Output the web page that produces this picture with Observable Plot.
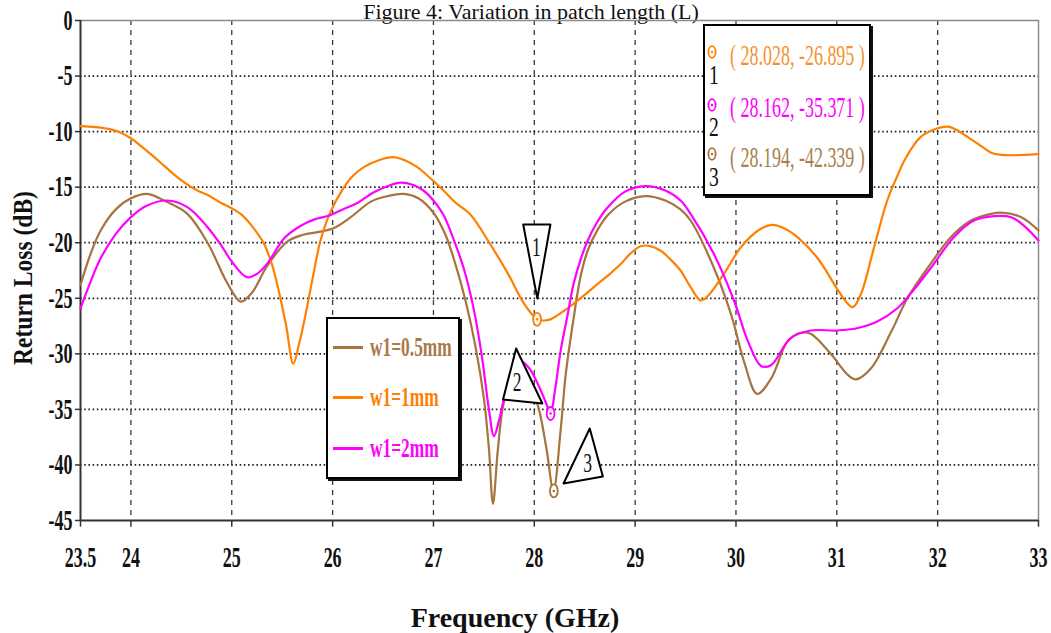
<!DOCTYPE html>
<html>
<head>
<meta charset="utf-8">
<script src="https://cdn.jsdelivr.net/npm/d3@7"></script>
<script src="https://cdn.jsdelivr.net/npm/@observablehq/plot@0.6"></script>
<style>
  body { margin: 0; background: #fff; }
  #wrap { position: relative; width: 1051px; height: 633px; overflow: hidden; background: #fff; font-family: "Liberation Serif", serif; }
  #title { position: absolute; left: 531px; top: 1px; transform: translateX(-50%); font-size: 22px; line-height: 22px; white-space: nowrap; color: #111; }
  #xlabel { position: absolute; left: 515px; top: 604px; transform: translateX(-50%); font-size: 28px; line-height: 28px; font-weight: bold; white-space: nowrap; color: #111; }
  #ylabel { position: absolute; left: 23px; top: 278px; transform: translate(-50%, -50%) rotate(-90deg) scaleX(0.84); font-size: 28px; line-height: 28px; font-weight: bold; white-space: nowrap; color: #111; }
  #chart { position: absolute; left: 0; top: 0; }
  .box { position: absolute; box-sizing: border-box; background: #fff; border: 2px solid #000; box-shadow: 2px 2px 0 #111; }
  .row { position: absolute; white-space: nowrap; transform-origin: left center; }
  .swatch { position: absolute; height: 3px; }
</style>
</head>
<body>
<div id="wrap">
  <div id="title">Figure 4: Variation in patch length (L)</div>
  <div id="chart"></div>
  <div id="xlabel">Frequency (GHz)</div>
  <div id="ylabel">Return Loss (dB)</div>
  <div id="legend" class="box" style="left:326px; top:317px; width:134px; height:162px;"></div>
  <div id="mbox" class="box" style="left:703px; top:24px; width:168px; height:172px;"></div>
</div>
<script>
// ---------- data ----------
const seriesNames = ["w1=0.5mm", "w1=1mm", "w1=2mm"];
const seriesColors = ["#A5743F", "#FF8000", "#FF00FF"];

// w1 = 0.5 mm (brown)
const freq05 = [23.5,23.6,23.7,23.85,24.0,24.16,24.35,24.56,24.76,24.96,25.09,25.2,25.35,25.55,25.7,25.88,26.01,26.18,26.38,26.55,26.7,26.85,27.0,27.12,27.22,27.32,27.42,27.5,27.55,27.59,27.64,27.7,27.78,27.86,27.95,28.04,28.12,28.19,28.26,28.31,28.39,28.46,28.53,28.63,28.73,28.9,29.1,29.3,29.45,29.55,29.75,29.95,30.08,30.21,30.35,30.51,30.64,30.74,30.94,31.11,31.19,31.34,31.54,31.7,31.93,32.13,32.33,32.53,32.63,32.83,33.0];
const rl05 = [-23.8,-21.0,-18.9,-17.0,-16.0,-15.6,-16.3,-17.4,-20.0,-23.7,-25.3,-24.5,-22.1,-19.9,-19.3,-19.0,-18.7,-17.7,-16.3,-15.8,-15.6,-16.0,-17.3,-19.3,-22.0,-25.3,-29.5,-34.0,-38.5,-43.5,-38.5,-34.3,-32.6,-32.2,-32.8,-34.8,-38.5,-42.3,-37.0,-32.0,-26.8,-23.0,-20.7,-18.8,-17.5,-16.3,-15.8,-16.2,-17.0,-18.0,-21.6,-26.4,-30.7,-33.6,-32.2,-28.9,-28.1,-28.2,-30.0,-31.9,-32.3,-31.3,-28.0,-25.0,-21.9,-19.5,-18.0,-17.4,-17.3,-17.7,-18.9];

// w1 = 1 mm (orange)
const freq1 = [23.5,23.65,23.8,23.9,24.0,24.1,24.22,24.32,24.42,24.55,24.66,24.78,24.89,25.0,25.1,25.2,25.32,25.4,25.47,25.54,25.61,25.67,25.72,25.8,25.88,25.98,26.1,26.2,26.31,26.45,26.6,26.72,26.84,26.97,27.1,27.22,27.37,27.54,27.74,27.9,28.03,28.1,28.16,28.33,28.5,28.63,28.75,28.86,28.95,29.06,29.15,29.25,29.35,29.45,29.55,29.65,29.72,29.88,30.05,30.22,30.36,30.5,30.61,30.81,31.0,31.1,31.16,31.24,31.37,31.5,31.6,31.67,31.83,32.0,32.1,32.2,32.3,32.4,32.53,32.63,32.85,33.0];
const rl1 = [-9.5,-9.6,-9.8,-10.1,-10.6,-11.3,-12.2,-13.0,-13.8,-14.7,-15.3,-15.8,-16.4,-16.9,-17.5,-18.5,-20.1,-22.0,-24.5,-27.5,-30.9,-29.0,-27.0,-23.3,-19.8,-17.2,-15.2,-14.0,-13.2,-12.6,-12.3,-12.6,-13.2,-14.2,-15.3,-16.4,-17.5,-19.8,-22.8,-25.5,-26.9,-27.0,-26.9,-25.9,-24.7,-23.7,-22.8,-21.9,-21.0,-20.3,-20.3,-20.7,-21.5,-22.5,-24.0,-25.2,-24.8,-22.8,-20.4,-18.9,-18.4,-18.8,-19.5,-21.4,-24.1,-25.4,-25.8,-24.6,-20.4,-16.2,-14.0,-12.6,-10.5,-9.7,-9.55,-9.9,-10.5,-11.1,-11.9,-12.1,-12.1,-12.0];

// w1 = 2 mm (magenta)
const freq2 = [23.5,23.6,23.7,23.85,24.0,24.15,24.36,24.56,24.76,24.9,25.0,25.15,25.25,25.35,25.52,25.68,25.82,25.95,26.1,26.25,26.4,26.55,26.67,26.8,26.9,27.0,27.1,27.2,27.3,27.4,27.48,27.55,27.6,27.65,27.71,27.78,27.86,27.95,28.05,28.12,28.16,28.21,28.26,28.33,28.39,28.46,28.53,28.62,28.72,28.9,29.1,29.3,29.45,29.55,29.78,29.98,30.12,30.25,30.35,30.54,30.74,31.0,31.2,31.4,31.6,31.73,31.93,32.16,32.36,32.56,32.73,32.86,33.0];
const rl2 = [-25.9,-23.5,-21.4,-19.2,-17.7,-16.7,-16.2,-16.8,-18.6,-20.3,-21.7,-23.1,-22.8,-21.9,-19.6,-18.5,-17.9,-17.6,-17.0,-16.4,-15.5,-14.9,-14.6,-14.8,-15.3,-16.2,-17.5,-19.7,-22.3,-26.0,-30.2,-35.0,-37.4,-36.0,-33.6,-31.4,-30.6,-31.3,-33.0,-34.5,-35.4,-33.0,-29.8,-26.5,-23.7,-21.5,-19.8,-18.2,-16.9,-15.4,-14.9,-15.3,-16.2,-17.4,-21.0,-25.2,-28.9,-31.1,-31.0,-28.6,-27.9,-27.9,-27.7,-27.1,-25.9,-24.6,-22.3,-19.5,-18.0,-17.6,-17.7,-18.5,-19.8];

// markers
const markerIds = ["1", "2", "3"];
const markerFreq = [28.028, 28.162, 28.194];
const markerRL = [-26.895, -35.371, -42.339];
const markerColors = ["#FF8000", "#FF00FF", "#A5743F"];
const markerTextColors = ["#F5922F", "#FF00FF", "#A8804E"];

// callout triangles (data coordinates of their corners) and label anchors
const triIds = ["1", "1", "1", "2", "2", "2", "3", "3", "3"];
const triFreq = [27.89, 28.16, 28.03, 27.82, 27.69, 28.08, 28.55, 28.29, 28.68];
const triRL = [-18.36, -18.36, -25.02, -29.52, -34.11, -34.47, -36.72, -41.67, -41.04];
const triLabelFreq = [28.02, 27.83, 28.53];
const triLabelRL = [-20.4, -32.6, -39.9];

// axes
const xTicks = [23.5, 24, 25, 26, 27, 28, 29, 30, 31, 32, 33];
const xTickLabels = ["23.5", "24", "25", "26", "27", "28", "29", "30", "31", "32", "33"];
const xGrid = [24, 25, 26, 27, 28, 29, 30, 31, 32];
const yTicks = [0, -5, -10, -15, -20, -25, -30, -35, -40, -45];
const yTickLabels = ["0", "-5", "-10", "-15", "-20", "-25", "-30", "-35", "-40", "-45"];
const yGrid = [-5, -10, -15, -20, -25, -30, -35, -40];

// ---------- build ----------
const toPts = (fs, vs) => fs.map((f, i) => ({f, v: vs[i]}));
const s05 = toPts(freq05, rl05), s1 = toPts(freq1, rl1), s2 = toPts(freq2, rl2);
const markers = markerIds.map((id, i) => ({id, f: markerFreq[i], v: markerRL[i], c: markerColors[i]}));
const tri = triIds.map((id, i) => ({id, f: triFreq[i], v: triRL[i]}));
const triLabels = markerIds.map((id, i) => ({id, f: triLabelFreq[i], v: triLabelRL[i]}));

const ellipse = {
  draw(ctx, size) {
    const r = Math.sqrt(size / Math.PI), rx = r * 0.6, ry = r, k = 0.5523;
    ctx.moveTo(rx, 0);
    ctx.bezierCurveTo(rx, ry * k, rx * k, ry, 0, ry);
    ctx.bezierCurveTo(-rx * k, ry, -rx, ry * k, -rx, 0);
    ctx.bezierCurveTo(-rx, -ry * k, -rx * k, -ry, 0, -ry);
    ctx.bezierCurveTo(rx * k, -ry, rx, -ry * k, rx, 0);
    ctx.closePath();
  }
};

const plot = Plot.plot({
  width: 1051, height: 633,
  marginLeft: 80, marginRight: 13, marginTop: 20, marginBottom: 113,
  x: {domain: [23.5, 33], axis: null},
  y: {domain: [-45, 0], axis: null},
  style: {background: "transparent", fontFamily: "'Liberation Serif', serif", overflow: "visible"},
  marks: [
    Plot.ruleX(xGrid, {stroke: "#3a3a3a", strokeWidth: 1.3, strokeDasharray: "5,5"}),
    Plot.ruleY(yGrid, {stroke: "#222", strokeWidth: 1.7, strokeDasharray: "1.6,2.6"}),
    Plot.ruleY([0], {stroke: "#8a8a8a", strokeWidth: 1.5}),
    Plot.ruleX([33], {stroke: "#8a8a8a", strokeWidth: 1.5}),
    Plot.ruleX(xTicks, {y1: -45, y2: -45.6, stroke: "#333", strokeWidth: 1.5}),
    Plot.ruleY(yTicks, {x1: 23.5, x2: 23.45, stroke: "#333", strokeWidth: 1.5}),
    Plot.ruleX([23.5], {stroke: "#333", strokeWidth: 2}),
    Plot.ruleY([-45], {stroke: "#333", strokeWidth: 2.2}),
    Plot.line(s05, {x: "f", y: "v", stroke: seriesColors[0], strokeWidth: 2.2, curve: "catmull-rom"}),
    Plot.line(s1, {x: "f", y: "v", stroke: seriesColors[1], strokeWidth: 2.2, curve: "catmull-rom"}),
    Plot.line(s2, {x: "f", y: "v", stroke: seriesColors[2], strokeWidth: 2.2, curve: "catmull-rom"}),
    Plot.line(tri, {x: "f", y: "v", z: "id", fill: "white", stroke: "#000", strokeWidth: 2, curve: "linear-closed"}),
    Plot.dot(markers, {x: "f", y: "v", r: 6.5, symbol: ellipse, stroke: "c", fill: "white", strokeWidth: 1.8}),
    Plot.dot(markers, {x: "f", y: "v", r: 1.3, fill: "c"}),
    Plot.text(triLabels, {x: "f", y: "v", text: "id", fontSize: 27, fill: "#111", lineAnchor: "middle", ariaDescription: "sq-tri"}),
    Plot.text(xTicks, {x: d => d, y: -45, dy: 37, text: (d, i) => xTickLabels[i], fontSize: 29, fontWeight: "bold", fill: "#111", lineAnchor: "middle", ariaDescription: "sq-x"}),
    Plot.text(yTicks, {x: 23.5, y: d => d, dx: -8, text: (d, i) => yTickLabels[i], textAnchor: "end", fontSize: 29, fontWeight: "bold", fill: "#111", lineAnchor: "middle", ariaDescription: "sq-y"})
  ]
});
document.getElementById("chart").appendChild(plot);

// horizontally condense text labels about their anchor point (keeps em-based offsets)
function squeezeTexts(texts, s) {
  texts.forEach(t => {
    const xa = t.getAttribute("x"), ya = t.getAttribute("y");
    let tx = 0, ty = 0;
    if (xa !== null && !/em$/.test(xa)) { tx = parseFloat(xa) || 0; t.removeAttribute("x"); }
    if (ya !== null && !/em$/.test(ya)) { ty = parseFloat(ya) || 0; t.removeAttribute("y"); }
    const tr = t.getAttribute("transform") || "";
    t.setAttribute("transform", `${tr} translate(${tx},${ty}) scale(${s},1)`);
  });
}
const textGroups = Array.from(plot.querySelectorAll("g")).filter(g => g.querySelector(":scope > text") && !g.querySelector(":scope > g"));
function groupFor(desc, idx) {
  const g = plot.querySelector(`g[aria-description="${desc}"]`);
  return g || textGroups[idx];
}
const scales = {"sq-tri": 0.65, "sq-x": 0.62, "sq-y": 0.62};
["sq-tri", "sq-x", "sq-y"].forEach((d, i) => {
  const g = groupFor(d, i);
  if (g) squeezeTexts(Array.from(g.querySelectorAll("text")), scales[d]);
});

// ---------- series legend ----------
const legend = document.getElementById("legend");
const legendRowY = [28, 78, 129];
seriesNames.forEach((name, i) => {
  const sw = document.createElement("div");
  sw.className = "swatch";
  sw.style.cssText = `left:5px; width:30px; top:${legendRowY[i] - 1.5}px; background:${seriesColors[i]};`;
  legend.appendChild(sw);
  const t = document.createElement("div");
  t.className = "row";
  t.textContent = name;
  t.style.cssText = `left:42px; top:${legendRowY[i] - 14}px; font-size:28px; line-height:28px; font-weight:bold; color:${i === 0 ? "#A87A48" : seriesColors[i]}; transform:scaleX(0.62);`;
  legend.appendChild(t);
});

// ---------- marker readout box ----------
const mbox = document.getElementById("mbox");
const symY = [26, 79, 128], numY = [49, 101, 151], txtY = [29, 81, 131];
markers.forEach((m, i) => {
  const s = document.createElementNS("http://www.w3.org/2000/svg", "svg");
  s.setAttribute("width", 12); s.setAttribute("height", 16);
  s.style.cssText = `position:absolute; left:1px; top:${symY[i] - 8}px;`;
  s.innerHTML = `<ellipse cx="6" cy="8" rx="3.6" ry="5.8" fill="white" stroke="${m.c}" stroke-width="1.8"/><circle cx="6" cy="8" r="1.2" fill="${m.c}"/>`;
  mbox.appendChild(s);
  const n = document.createElement("div");
  n.className = "row";
  n.textContent = m.id;
  n.style.cssText = `left:4px; top:${numY[i] - 14}px; font-size:28px; line-height:28px; color:#111; transform:scaleX(0.7);`;
  mbox.appendChild(n);
  const t = document.createElement("div");
  t.className = "row";
  t.textContent = `( ${m.f.toFixed(3)}, ${m.v.toFixed(3)} )`;
  t.style.cssText = `left:25px; top:${txtY[i] - 14}px; font-size:29px; line-height:28px; color:${markerTextColors[i]}; transform:scaleX(0.62);`;
  mbox.appendChild(t);
});
</script>
</body>
</html>
